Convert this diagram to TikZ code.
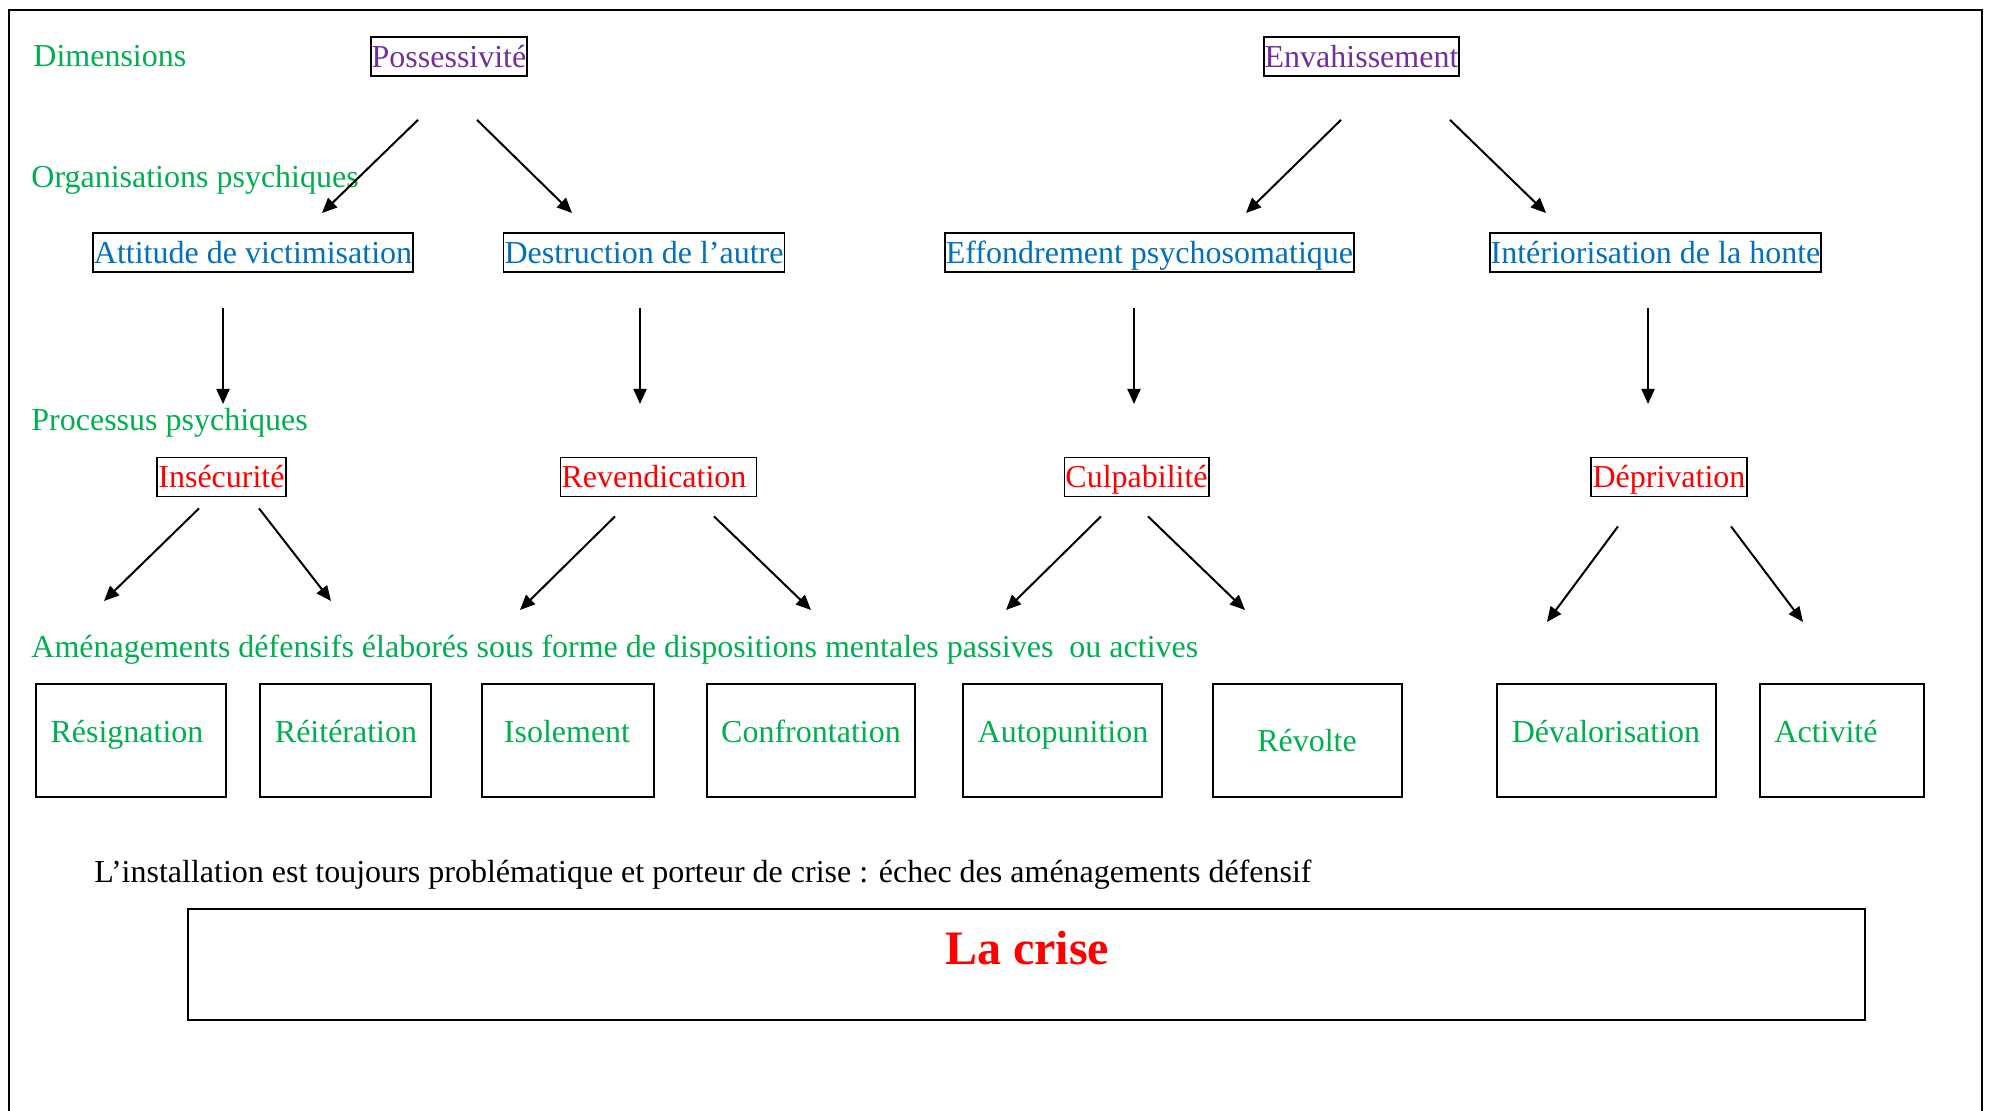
\documentclass[tikz,border=0pt]{standalone}
\usepackage{fontspec}
\setmainfont{Liberation Serif}
\usetikzlibrary{arrows.meta,calc}
\definecolor{cgreen}{HTML}{00B050}
\definecolor{cpurple}{HTML}{7030A0}
\definecolor{cblue}{HTML}{0070C0}
\definecolor{cred}{HTML}{FF0000}
\tikzset{
  basefont/.style={font=\fontsize{16}{19}\selectfont},
  lbl/.style={basefont, text=cgreen, anchor=base west, inner sep=0pt},
  tbox/.style={basefont, draw, line width=0.9pt, inner xsep=0.5pt, inner ysep=0pt,
    text height=1.1em, text depth=0em, minimum height=19.5pt},
  dimbox/.style={tbox, text=cpurple},
  orgbox/.style={tbox, text=cblue},
  procbox/.style={tbox, text=cred},
  defbox/.style={draw, line width=0.9pt, minimum height=56.5pt, inner sep=0pt},
  deftxt/.style={basefont, text=cgreen, anchor=base, inner sep=0pt},
  arr/.style={line width=1pt, -{Triangle[length=7.5pt,width=6.5pt]}},
}
\begin{document}
\begin{tikzpicture}[x=0.5pt,y=-0.5pt]
\clip (0,0) rectangle (1990,1111);
\fill[white] (0,0) rectangle (1990,1111);
% outer frame
\draw[line width=0.8pt] (9,1130) -- (9,10) -- (1982,10) -- (1982,1130);

% level labels
\node[lbl] (lDim) at (33,67) {Dimensions};
\node[lbl] (lOrg) at (31,188) {Organisations psychiques};
\node[lbl] (lProc) at (31,431) {Processus psychiques};
\node[lbl] (lAm) at (31,657) {Aménagements défensifs élaborés sous forme de dispositions mentales passives\ \ ou actives};
\node[basefont, anchor=base west, inner sep=0pt] (lInst) at (94,882) {L’installation est toujours problématique et porteur de crise : échec des aménagements défensif};

% dimensions
\node[dimbox, minimum width=78pt] (poss) at (449,56.5) {Possessivité};
\node[dimbox, minimum width=97.5pt] (envah) at (1361.5,56.5) {Envahissement};

% organisations
\node[orgbox, minimum width=159pt] (att) at (253,252.5) {Attitude de victimisation};
\node[orgbox, minimum width=140pt] (destr) at (644,252.5) {Destruction de l’autre};
\node[orgbox, minimum width=204.5pt] (effo) at (1149.5,252.5) {Effondrement psychosomatique};
\node[orgbox, minimum width=165.5pt] (inter) at (1655.5,252.5) {Intériorisation de la honte};

% processus
\node[procbox, minimum width=64.5pt] (insec) at (221.5,477) {Insécurité};
\node[procbox, minimum width=97.5pt] (revend) at (658.5,477) {Revendication\kern4.5pt};
\node[procbox, minimum width=71.5pt] (culp) at (1136.5,477) {Culpabilité};
\node[procbox, minimum width=78pt] (depriv) at (1669,477) {Déprivation};

% defensive boxes
\node[defbox, minimum width=95pt] (b1) at (131,740.5) {};
\node[defbox, minimum width=85.5pt] (b2) at (345.5,740.5) {};
\node[defbox, minimum width=86pt] (b3) at (568,740.5) {};
\node[defbox, minimum width=104pt] (b4) at (811,740.5) {};
\node[defbox, minimum width=99.5pt] (b5) at (1062.5,740.5) {};
\node[defbox, minimum width=94.5pt] (b6) at (1307.5,740.5) {};
\node[defbox, minimum width=109.5pt] (b7) at (1606.5,740.5) {};
\node[defbox, minimum width=82pt] (b8) at (1842,740.5) {};
\node[deftxt] (t1) at (127,742) {Résignation};
\node[deftxt] (t2) at (346,742) {Réitération};
\node[deftxt] (t3) at (567,742) {Isolement};
\node[deftxt] (t4) at (811,742) {Confrontation};
\node[deftxt] (t5) at (1063,742) {Autopunition};
\node[deftxt] (t6) at (1307,751) {Révolte};
\node[deftxt] (t7) at (1606,742) {Dévalorisation};
\node[deftxt] (t8) at (1826,742) {Activité};

% crisis
\node[draw, line width=1pt, minimum width=838.5pt, minimum height=55.5pt, inner sep=0pt] (crise) at (1026.5,964.5) {};
\node[font=\fontsize{24}{28}\selectfont\bfseries, text=cred, anchor=base, inner sep=0pt] (criset) at (1027,964) {La crise};

% arrow end points
\coordinate (ePL) at (322,213);
\coordinate (ePR) at (572,213);
\coordinate (eEL) at (1246,213);
\coordinate (eER) at (1546,213);
\coordinate (eV1) at (223,404);
\coordinate (eV2) at (640,404);
\coordinate (eV3) at (1134,404);
\coordinate (eV4) at (1648,404);
\coordinate (eIL) at (104,601);
\coordinate (eIR) at (331,601);
\coordinate (eRL) at (520,610);
\coordinate (eRR) at (811,610);
\coordinate (eCL) at (1006,610);
\coordinate (eCR) at (1245,610);
\coordinate (eDL) at (1547,622);
\coordinate (eDR) at (1803,622);

% arrows
\draw[arr] ($(poss.south)+(-31,43)$) -- (ePL);
\draw[arr] ($(poss.south)+(28,43)$) -- (ePR);
\draw[arr] ($(envah.south)+(-20.5,43)$) -- (eEL);
\draw[arr] ($(envah.south)+(88.5,43)$) -- (eER);
\draw[arr] ($(att.south)+(-30,35)$) -- (eV1);
\draw[arr] ($(destr.south)+(-4,35)$) -- (eV2);
\draw[arr] ($(effo.south)+(-15.5,35)$) -- (eV3);
\draw[arr] ($(inter.south)+(-7.5,35)$) -- (eV4);
\draw[arr] ($(insec.south)+(-22.5,11)$) -- (eIL);
\draw[arr] ($(insec.south)+(37.5,11)$) -- (eIR);
\draw[arr] ($(revend.south)+(-43.5,19)$) -- (eRL);
\draw[arr] ($(revend.south)+(55.5,19)$) -- (eRR);
\draw[arr] ($(culp.south)+(-35.5,19)$) -- (eCL);
\draw[arr] ($(culp.south)+(11.5,19)$) -- (eCR);
\draw[arr] ($(depriv.south)+(-51,29)$) -- (eDL);
\draw[arr] ($(depriv.south)+(62,29)$) -- (eDR);
\end{tikzpicture}
\end{document}
